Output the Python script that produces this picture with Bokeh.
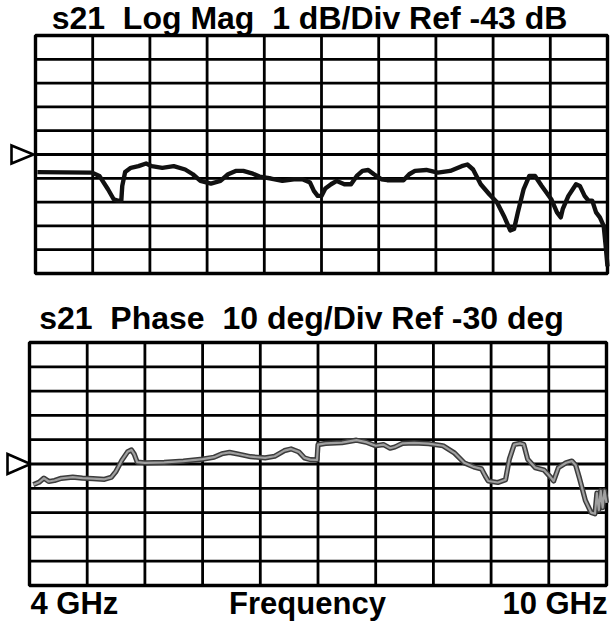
from bokeh.plotting import figure
from bokeh.layouts import column
from bokeh.models import Range1d
from bokeh.core.properties import value
from bokeh.embed import file_html
from bokeh.resources import INLINE

# ---------------- data ----------------
f_start, f_stop = 4.0, 10.0
n_div = 10

mag_ref, mag_per_div = -43.0, 1.0
mag_freq = [4.02, 4.59, 4.67, 4.76, 4.82, 4.86, 4.90, 4.91, 4.94, 5.00, 5.08, 5.16, 5.22,
            5.33, 5.45, 5.57, 5.65, 5.73, 5.84, 5.94, 6.02, 6.10, 6.18, 6.27, 6.35, 6.47,
            6.59, 6.71, 6.80, 6.88, 6.92, 6.96, 7.00, 7.04, 7.10, 7.16, 7.24, 7.31, 7.37,
            7.43, 7.49, 7.55, 7.63, 7.69, 7.86, 7.92, 7.98, 8.10, 8.22, 8.35, 8.47, 8.53,
            8.59, 8.67, 8.76, 8.84, 8.92, 8.98, 9.02, 9.06, 9.12, 9.18, 9.24, 9.31, 9.41,
            9.47, 9.51, 9.53, 9.59, 9.67, 9.71, 9.76, 9.80, 9.84, 9.88, 9.92, 9.96, 9.98, 10.0]
mag_db = [-43.74, -43.76, -43.90, -44.46, -44.88, -44.94, -44.94, -44.32, -43.74, -43.56,
          -43.49, -43.38, -43.49, -43.56, -43.49, -43.63, -43.83, -44.11, -44.22, -44.11,
          -43.83, -43.69, -43.69, -43.79, -43.93, -44.01, -44.11, -44.04, -44.04, -44.18,
          -44.53, -44.74, -44.74, -44.43, -44.25, -44.11, -44.25, -44.25, -43.90, -43.69,
          -43.65, -43.83, -44.04, -44.08, -44.08, -43.83, -43.69, -43.65, -43.76, -43.69,
          -43.49, -43.42, -43.63, -44.25, -44.67, -45.01, -45.64, -46.19, -46.13, -45.43,
          -44.46, -43.90, -43.90, -44.32, -44.88, -45.43, -45.64, -45.30, -44.74, -44.25,
          -44.32, -44.74, -44.94, -44.94, -45.43, -45.64, -46.00, -46.80, -47.70]

ph_ref, ph_per_div = -30.0, 10.0
ph_freq = [4.04, 4.10, 4.15, 4.20, 4.26, 4.33, 4.45, 4.55, 4.66, 4.78, 4.85, 4.90, 4.96,
           5.02, 5.06, 5.09, 5.12, 5.20, 5.40, 5.60, 5.80, 5.92, 6.00, 6.08, 6.18, 6.30,
           6.45, 6.55, 6.65, 6.72, 6.80, 6.86, 6.92, 6.99, 7.00, 7.08, 7.25, 7.40, 7.50,
           7.60, 7.68, 7.75, 7.80, 7.88, 8.00, 8.15, 8.30, 8.42, 8.52, 8.62, 8.70, 8.74,
           8.77, 8.87, 8.95, 8.99, 9.04, 9.10, 9.14, 9.18, 9.26, 9.35, 9.42, 9.45, 9.50,
           9.58, 9.64, 9.68, 9.72, 9.78, 9.84, 9.88, 9.90, 9.92, 9.94, 9.96, 9.98, 10.0]
ph_deg = [-38.5, -37.5, -35.8, -37.2, -36.8, -35.9, -35.4, -35.8, -36.0, -36.3, -35.5,
          -33.0, -28.5, -25.0, -24.2, -26.0, -29.2, -29.5, -29.3, -28.8, -28.0, -27.2,
          -25.8, -25.2, -26.0, -27.0, -27.5, -26.8, -24.5, -23.8, -25.0, -27.5, -28.2,
          -28.3, -22.0, -21.5, -21.2, -20.2, -21.0, -22.5, -22.0, -23.5, -23.0, -21.5,
          -21.3, -21.6, -22.5, -25.5, -29.5, -31.2, -32.0, -35.0, -37.0, -37.6, -36.5,
          -28.0, -22.0, -21.5, -22.0, -28.0, -31.5, -32.5, -35.5, -37.0, -31.5, -29.5,
          -28.8, -30.5, -36.0, -45.0, -50.0, -50.5, -42.0, -49.0, -41.0, -48.0, -41.0, -46.0]

title_mag = "s21\u00a0 Log Mag\u00a0 1 dB/Div Ref -43 dB"
title_ph = "s21\u00a0 Phase\u00a0 10 deg/Div Ref -30 deg"
label_left, label_mid, label_right = "4 GHz", "Frequency", "10 GHz"

FONT = "Liberation Sans"
W = 610


class Panel:
    """A figure whose frame is the whole canvas; the grid is placed in pixels."""

    def __init__(self, ref, per_div, height, gl, gr, gt, gb):
        self.lo = ref - per_div * n_div / 2
        self.hi = ref + per_div * n_div / 2
        self.ref, self.per_div = ref, per_div
        self.sx = (f_stop - f_start) / (gr - gl)
        self.sy = (self.hi - self.lo) / (gb - gt)
        self.gl, self.gt = gl, gt
        self.p = figure(width=W, height=height, output_backend="svg", toolbar_location=None,
                        x_range=Range1d(f_start - gl * self.sx, f_start + (W - gl) * self.sx),
                        y_range=Range1d(self.hi - (height - gt) * self.sy, self.hi + gt * self.sy),
                        x_axis_location=None, y_axis_location=None,
                        min_border=0)
        p = self.p
        p.outline_line_color = None
        p.background_fill_color = "white"
        p.border_fill_color = "white"
        for g in p.grid:
            g.visible = False

        xt = [f_start + i * (f_stop - f_start) / n_div for i in range(n_div + 1)]
        yt = [self.lo + i * per_div for i in range(n_div + 1)]
        p.segment(x0=xt, x1=xt, y0=[self.lo] * len(xt), y1=[self.hi] * len(xt),
                  line_color="black", line_width=2.8)
        p.segment(x0=[f_start] * len(yt), x1=[f_stop] * len(yt), y0=yt, y1=yt,
                  line_color="black", line_width=2.8)
        p.quad(left=[f_start], right=[f_stop], bottom=[self.lo], top=[self.hi],
               fill_alpha=0, line_color="black", line_width=3.4)

    def xpx(self, px):
        return f_start + (px - self.gl) * self.sx

    def ypx(self, py):
        return self.hi - (py - self.gt) * self.sy

    def marker(self, tip_gap, w, h):
        # open reference triangle just left of the grid at the reference level
        x_tip = f_start - tip_gap * self.sx
        x_base = f_start - (tip_gap + w) * self.sx
        dy = h * self.sy
        self.p.patch([x_base, x_tip, x_base], [self.ref + dy, self.ref, self.ref - dy],
                     fill_alpha=0, line_color="black", line_width=2.6, line_join="miter")

    def text(self, xs, ys, texts, align, size):
        self.p.text(x=xs, y=ys, text=texts, text_align=align, text_baseline="alphabetic",
                    text_font=value(FONT), text_font_style="bold", text_font_size=size,
                    text_color="black")


# ---- top panel: page y 0..285 ----
top = Panel(mag_ref, mag_per_div, 285, gl=35, gr=607, gt=35, gb=273)
top.text([top.xpx(309)], [top.ypx(17)], [title_mag], "center", "32px")
top.marker(tip_gap=2, w=22, h=9)
top.p.line(mag_freq, mag_db, line_color="#111111", line_width=4.4, line_join="round")

# ---- bottom panel: page y 285..623 ----
bot = Panel(ph_ref, ph_per_div, 338, gl=29, gr=606, gt=57, gb=300)
bot.text([bot.xpx(301)], [bot.ypx(32)], [title_ph], "center", "32px")
bot.marker(tip_gap=-1, w=23, h=10)
bot.p.line(ph_freq, ph_deg, line_color="#3c3c3c", line_width=5.2, line_join="round")
bot.p.line(ph_freq, ph_deg, line_color="#a0a0a0", line_width=2.2, line_join="round")
yl = bot.ypx(318)
bot.text([f_start + 1 * bot.sx], [yl], [label_left], "left", "31px")
bot.text([bot.xpx(307)], [yl], [label_mid], "center", "31px")
bot.text([f_stop + 1 * bot.sx], [yl], [label_right], "right", "31px")

layout = column(top.p, bot.p, spacing=0)
open("out.html", "w").write(file_html(layout, INLINE))
